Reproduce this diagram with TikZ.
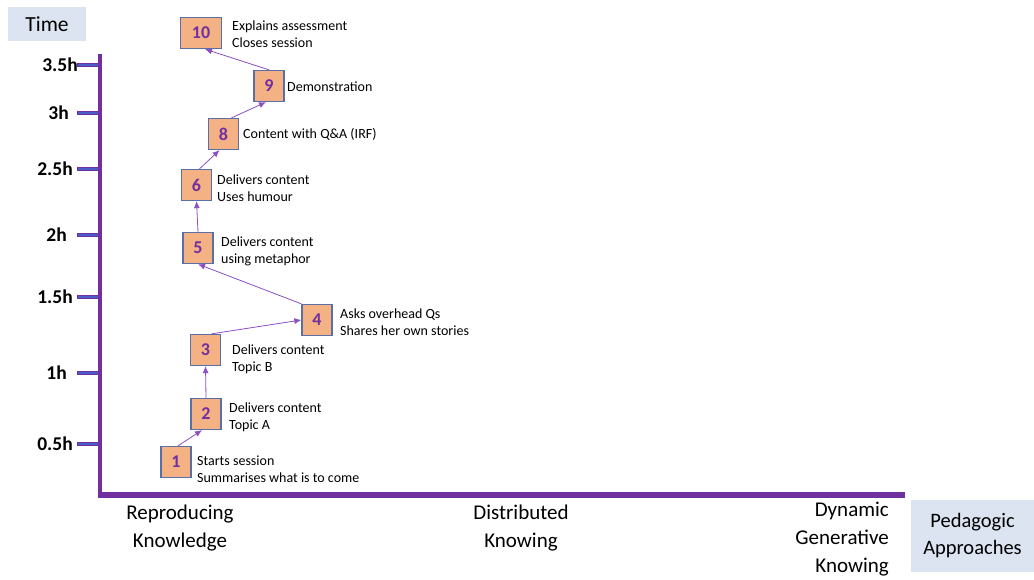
\documentclass[tikz,border=0pt]{standalone}
\usepackage{fontspec}
\setmainfont{Carlito}
\usetikzlibrary{arrows.meta,calc}
\definecolor{axispurple}{HTML}{7030A0}
\definecolor{tickblue}{HTML}{4A5CC8}
\definecolor{stepfill}{HTML}{F4B183}
\definecolor{stepedge}{HTML}{5A6FA8}
\definecolor{linkpurple}{HTML}{8B4FC4}
\definecolor{labelbg}{HTML}{DCE4F1}
\tikzset{
  stepbox/.style={draw=stepedge, line width=1.3pt, fill=stepfill, minimum width=30pt,
    minimum height=31pt, inner sep=2pt, font=\fontsize{18}{20}\selectfont\bfseries,
    text=axispurple},
  steptext/.style={anchor=west, align=left, font=\fontsize{14}{17}\selectfont, inner sep=0pt},
  hourlabel/.style={anchor=east, font=\fontsize{19.5}{22}\selectfont\bfseries, inner sep=0pt},
  axislabel/.style={font=\fontsize{21}{28}\selectfont, inner sep=0pt},
  link/.style={draw=linkpurple, line width=0.8pt, -{Latex[length=7pt,width=6pt]}},
  tickline/.style={line width=4pt, draw=axispurple},
  tickcore/.style={line width=2.2pt, draw=tickblue},
}
\begin{document}
\begin{tikzpicture}[x=1pt,y=-1pt]
  \useasboundingbox (0,0) rectangle (1034,579);

  % title boxes
  \node[fill=labelbg, minimum width=78pt, minimum height=34pt, inner sep=0pt,
        font=\fontsize{21.5}{24}\selectfont] (time) at (47,24) {Time};
  \node[fill=labelbg, minimum width=123pt, minimum height=72pt, inner sep=0pt,
        align=center, font=\fontsize{20.5}{27}\selectfont] (ped) at (972.5,536) {Pedagogic\\Approaches};

  % axes
  \coordinate (ytop) at (100,54);
  \coordinate (origin) at (100,495);
  \coordinate (xend) at (905,495);

  % time ticks
  \foreach \yy in {65,113,169,235,297,373,444}{
    \draw[tickline] (77,\yy) -- (100,\yy);
    \draw[tickcore] (78,\yy) -- (99,\yy);
  }
  \node[hourlabel] (h35) at (78,65) {3.5h};
  \node[hourlabel] (h3)  at (69,113) {3h};
  \node[hourlabel] (h25) at (73,169) {2.5h};
  \node[hourlabel] (h2)  at (67,235) {2h};
  \node[hourlabel] (h15) at (73,297) {1.5h};
  \node[hourlabel] (h1)  at (67,373) {1h};
  \node[hourlabel] (h05) at (73,444) {0.5h};

  \draw[draw=axispurple, line width=4.5pt] (ytop) -- (100,497.5);
  \draw[draw=axispurple, line width=6pt] (97.75,495) -- (xend);

  % pedagogic approaches
  \node[axislabel, align=center] (rk) at (180,528) {Reproducing\\Knowledge};
  \node[axislabel, align=center] (dk) at (521,528) {Distributed\\Knowing};
  \node[axislabel, align=right, anchor=north east] (dgk) at (889,502) {Dynamic\\Generative\\Knowing};

  % steps
  \node[stepbox, minimum width=41pt] (s10) at (201,33) {10};
  \node[stepbox] (s9) at (269,86) {9};
  \node[stepbox] (s8) at (223.5,134) {8};
  \node[stepbox] (s6) at (196.5,185) {6};
  \node[stepbox] (s5) at (198,248) {5};
  \node[stepbox] (s4) at (317,320) {4};
  \node[stepbox] (s3) at (205.5,350) {3};
  \node[stepbox] (s2) at (206,414) {2};
  \node[stepbox] (s1) at (176,462) {1};

  % step descriptions
  \node[steptext] (t10) at (232,34) {Explains assessment\\Closes session};
  \node[steptext] (t9)  at (287,87) {Demonstration};
  \node[steptext] (t8)  at (243,134) {Content with Q\&A (IRF)};
  \node[steptext] (t6)  at (217,188) {Delivers content\\Uses humour};
  \node[steptext] (t5)  at (221,251) {Delivers content\\using metaphor};
  \node[steptext] (t4)  at (340,322) {Asks overhead Qs\\Shares her own stories};
  \node[steptext] (t3)  at (232,359) {Delivers content\\Topic B};
  \node[steptext] (t2)  at (229,417) {Delivers content\\Topic A};
  \node[steptext] (t1)  at (197,469) {Starts session\\Summarises what is to come};

  % sequence of steps
  \draw[link] ($(s1.north)+(2,0)$) -- ($(s2.south)+(-4,0)$);
  \draw[link] (s2.north) -- (s3.south);
  \draw[link] ($(s3.north)+(6,0)$) -- (s4.west);
  \draw[link] (s4.north west) -- (s5.south);
  \draw[link] (s5.north) -- (s6.south);
  \draw[link] ($(s6.north)+(3,0)$) -- ($(s8.south)+(-4,0)$);
  \draw[link] ($(s8.north)+(8,0)$) -- ($(s9.south)+(-3,0)$);
  \draw[link] (s9.north) -- ($(s10.south)+(4,0)$);
\end{tikzpicture}
\end{document}
